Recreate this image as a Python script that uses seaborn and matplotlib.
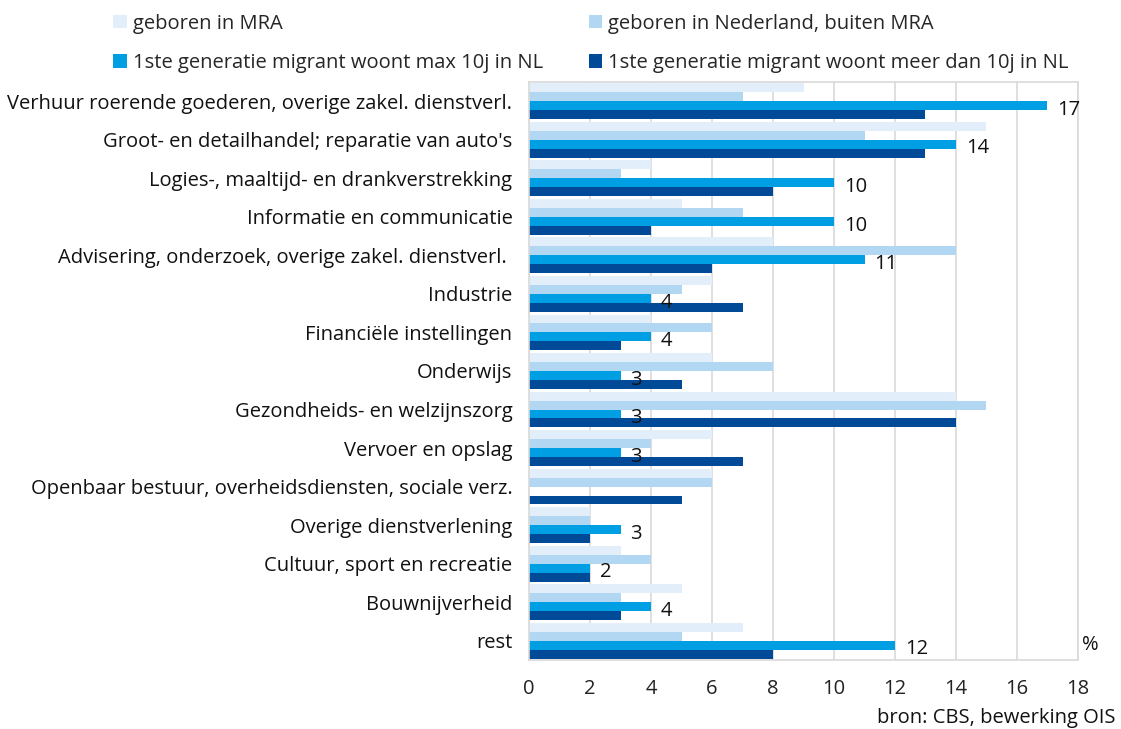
import matplotlib
matplotlib.use("Agg")
import matplotlib.pyplot as plt
import seaborn as sns
import pandas as pd
from matplotlib.patches import Patch

categories = [
    "Verhuur roerende goederen, overige zakel. dienstverl.",
    "Groot- en detailhandel; reparatie van auto's",
    "Logies-, maaltijd- en drankverstrekking",
    "Informatie en communicatie",
    "Advisering, onderzoek, overige zakel. dienstverl. ",
    "Industrie",
    "Financiële instellingen",
    "Onderwijs",
    "Gezondheids- en welzijnszorg",
    "Vervoer en opslag",
    "Openbaar bestuur, overheidsdiensten, sociale verz.",
    "Overige dienstverlening",
    "Cultuur, sport en recreatie",
    "Bouwnijverheid",
    "rest",
]
series = [
    "geboren in MRA",
    "geboren in Nederland, buiten MRA",
    "1ste generatie migrant woont max 10j in NL",
    "1ste generatie migrant woont meer dan 10j in NL",
]
mra = [9, 15, 4, 5, 8, 6, 4, 6, 14, 6, 6, 2, 3, 5, 7]
nl = [7, 11, 3, 7, 14, 5, 6, 8, 15, 4, 6, 2, 4, 3, 5]
max10 = [17, 14, 10, 10, 11, 4, 4, 3, 3, 3, 0, 3, 2, 4, 12]
meer10 = [13, 13, 8, 4, 6, 7, 3, 5, 14, 7, 5, 2, 2, 3, 8]
xticks = [0, 2, 4, 6, 8, 10, 12, 14, 16, 18]
colors = ["#e2eef9", "#b2d7f3", "#009fe3", "#004a98"]

values = [mra, nl, max10, meer10]
rows = []
for s, vals in zip(series, values):
    for c, v in zip(categories, vals):
        rows.append({"cat": c, "serie": s, "val": v})
df = pd.DataFrame(rows)

sns.set_theme(style="white")
plt.rcParams["font.family"] = ["Open Sans", "DejaVu Sans"]
FS = 14.5

fig = plt.figure(figsize=(11.21, 7.29), dpi=100)
ax = fig.add_axes([0.472, 0.0947, 0.4896, 0.7928])

sns.barplot(data=df, y="cat", x="val", hue="serie", order=categories,
            hue_order=series, palette=colors, orient="h", width=0.93,
            linewidth=0, saturation=1, ax=ax, legend=False)

ax.set_xlim(0, 18)
ax.set_xticks(xticks)
ax.set_xticklabels([str(t) for t in xticks], fontsize=FS, color="#222222")
ax.tick_params(axis="x", length=0, pad=14)
ax.tick_params(axis="y", length=0, pad=12, labelsize=FS, labelcolor="#111111")
ax.set_xlabel("")
ax.set_ylabel("")
ax.grid(axis="x", color="#d9d9d9", linewidth=1.2)
ax.set_axisbelow(True)
for sp in ax.spines.values():
    sp.set_color("#d9d9d9")
    sp.set_linewidth(1.2)

# data labels for the max-10j series
cont = ax.containers[2]
labels = [str(v) if v > 0 else "" for v in max10]
anns = ax.bar_label(cont, labels=labels, padding=7, fontsize=FS, color="#111111")
for a in anns:
    a.xyann = (7, -3)

handles = [Patch(facecolor=c, edgecolor="none") for c in colors]
order = [0, 2, 1, 3]
fig.legend([handles[i] for i in order], [series[i] for i in order], ncol=2,
           loc="upper left", bbox_to_anchor=(0.085, 1.006),
           frameon=False, fontsize=FS, handlelength=0.65, handleheight=0.65,
           handletextpad=0.3, columnspacing=2.3, labelspacing=0.95)

fig.text(0.965, 0.115, "%", fontsize=FS, ha="left", va="center", color="#111111")
fig.text(0.995, 0.015, "bron: CBS, bewerking OIS", fontsize=FS, ha="right",
         va="center", color="#111111")

fig.savefig("out.png", dpi=100)
